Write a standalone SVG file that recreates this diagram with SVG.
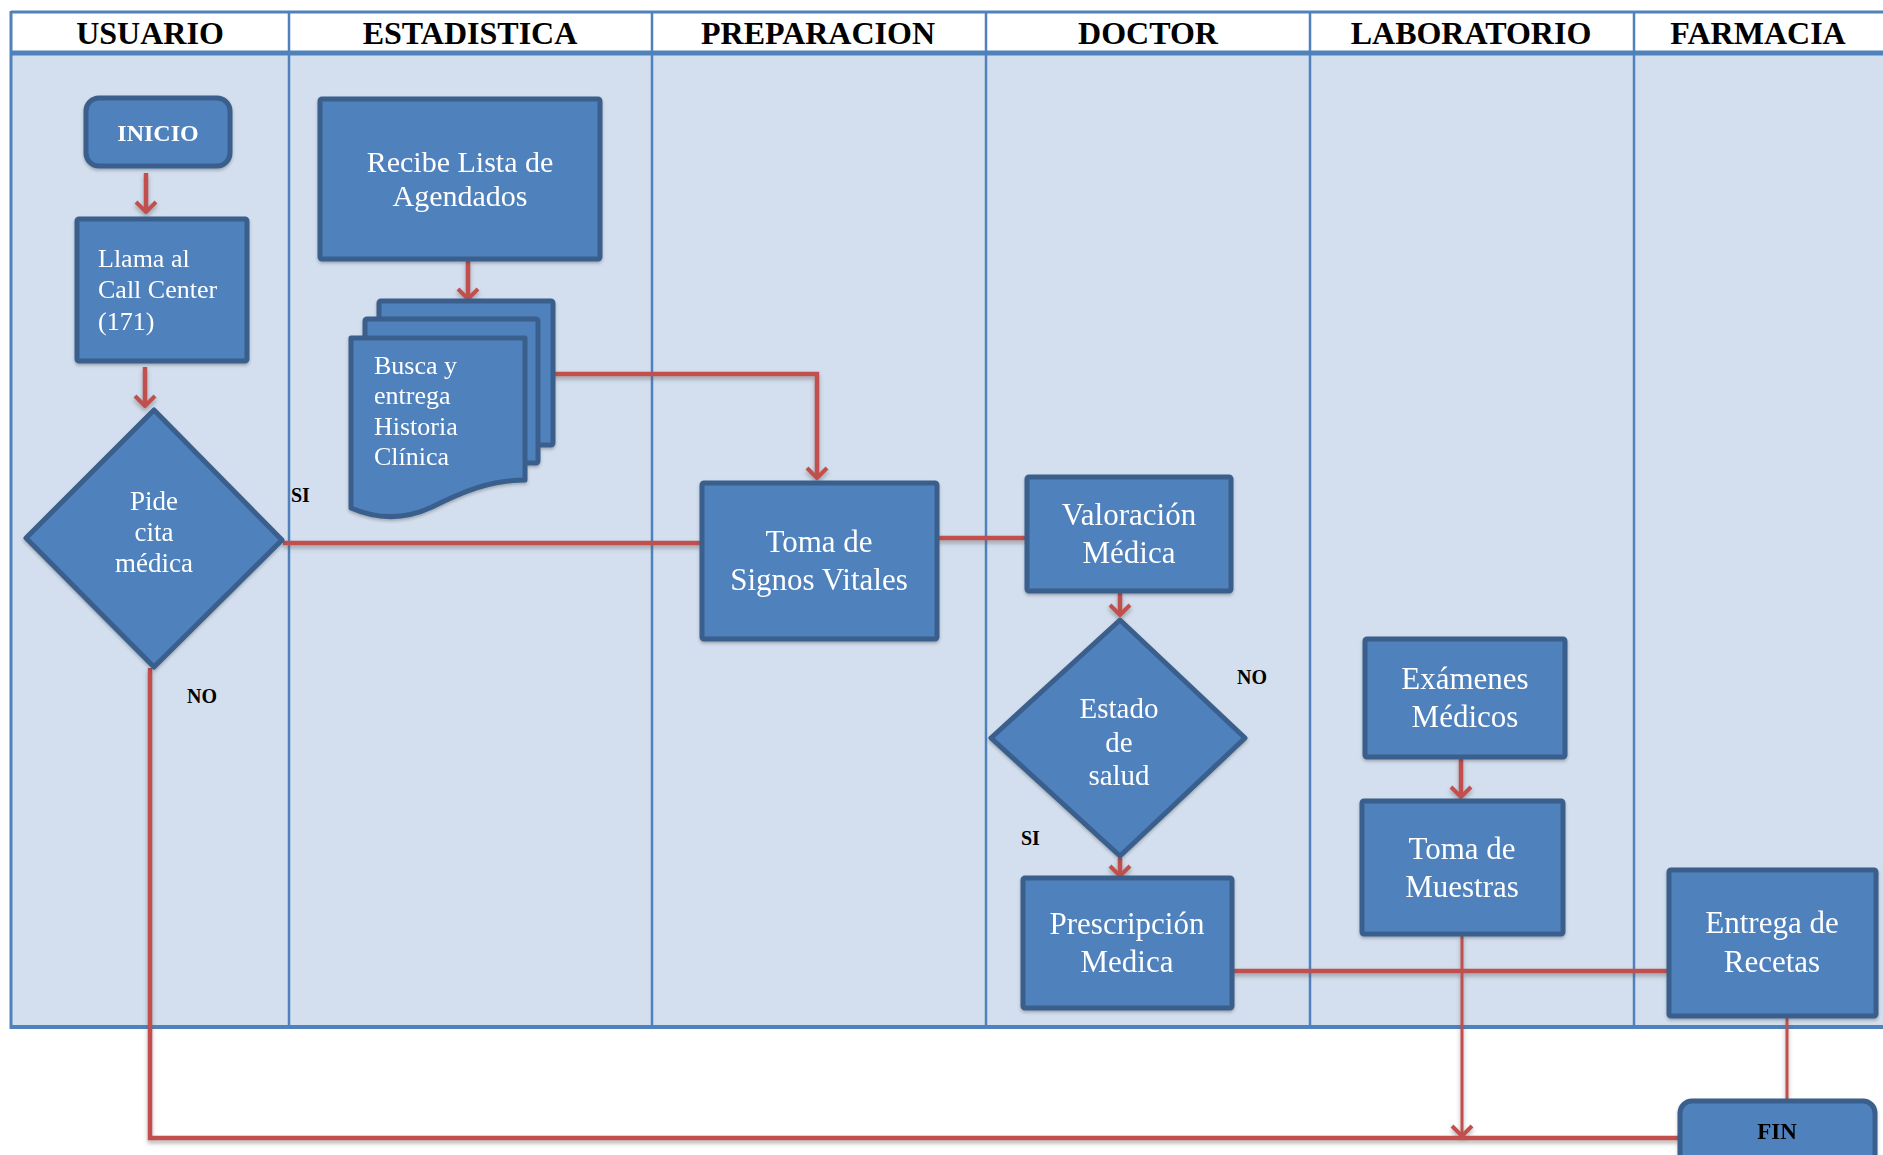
<svg xmlns="http://www.w3.org/2000/svg" width="1883" height="1155" viewBox="0 0 1883 1155">
  <style>
    .lane-head { font-family: "Liberation Serif", "Times New Roman", serif; font-weight: bold; font-size: 32px; fill: #000; text-anchor: middle; }
    .node { fill: #4F81BD; stroke: #3A5F8C; stroke-width: 5; stroke-linejoin: round; }
    .lbl { font-family: "Liberation Serif", "Times New Roman", serif; fill: #fff; }
    .mid { text-anchor: middle; }
    .tag { font-family: "Liberation Serif", "Times New Roman", serif; font-weight: bold; font-size: 20px; fill: #000; }
    .flow { fill: none; stroke: #C0504D; stroke-width: 4.5; }
    .thin { stroke-width: 3; }
    .divider { stroke: #4F81BD; stroke-width: 2.5; }
  </style>
  <defs>
    <marker id="chev" viewBox="-12 -12 14 24" markerWidth="14" markerHeight="24" markerUnits="userSpaceOnUse" orient="auto" refX="0" refY="0">
      <path d="M-10,-10 L0,0 L-10,10" fill="none" stroke="#C0504D" stroke-width="4" stroke-linejoin="miter"/>
    </marker>
    <filter id="shade" x="-5%" y="-20%" width="110%" height="160%">
      <feDropShadow dx="0" dy="3" stdDeviation="2" flood-color="#555" flood-opacity="0.45"/>
    </filter>
    <filter id="boxshade" x="-10%" y="-10%" width="120%" height="125%">
      <feDropShadow dx="0" dy="2" stdDeviation="1.5" flood-color="#333" flood-opacity="0.3"/>
    </filter>
  </defs>

  <rect x="0" y="0" width="1883" height="1155" fill="#fff"/>

  <!-- swimlane frame -->
  <g id="lanes">
    <rect x="11" y="55" width="1880" height="972" fill="#D3DFEE"/>
    <line x1="11" y1="12" x2="1883" y2="12" stroke="#4F81BD" stroke-width="3"/>
    <line x1="11" y1="53" x2="1883" y2="53" stroke="#4F81BD" stroke-width="5"/>
    <line x1="11" y1="1027" x2="1883" y2="1027" stroke="#4F81BD" stroke-width="4"/>
    <line x1="11" y1="11" x2="11" y2="1029" stroke="#4F81BD" stroke-width="3"/>
    <line class="divider" x1="289" y1="12" x2="289" y2="1027"/>
    <line class="divider" x1="652" y1="12" x2="652" y2="1027"/>
    <line class="divider" x1="986" y1="12" x2="986" y2="1027"/>
    <line class="divider" x1="1310" y1="12" x2="1310" y2="1027"/>
    <line class="divider" x1="1634" y1="12" x2="1634" y2="1027"/>
    <text class="lane-head" x="150" y="44">USUARIO</text>
    <text class="lane-head" x="470" y="44">ESTADISTICA</text>
    <text class="lane-head" x="818" y="44">PREPARACION</text>
    <text class="lane-head" x="1148" y="44">DOCTOR</text>
    <text class="lane-head" x="1471" y="44">LABORATORIO</text>
    <text class="lane-head" x="1758" y="44">FARMACIA</text>
  </g>

  <!-- connectors -->
  <g id="connectors" filter="url(#shade)">
    <line class="flow" x1="146" y1="173" x2="146" y2="212" marker-end="url(#chev)"/>
    <line class="flow" x1="145" y1="367" x2="145" y2="406" marker-end="url(#chev)"/>
    <line class="flow" x1="468" y1="260" x2="468" y2="299" marker-end="url(#chev)"/>
    <polyline class="flow" points="553,374 817,374 817,478" marker-end="url(#chev)"/>
    <line class="flow" x1="283" y1="543" x2="701" y2="543"/>
    <line class="flow" x1="938" y1="538" x2="1026" y2="538"/>
    <line class="flow" x1="1120" y1="592" x2="1120" y2="615" marker-end="url(#chev)"/>
    <line class="flow" x1="1120" y1="858" x2="1120" y2="876" marker-end="url(#chev)"/>
    <line class="flow" x1="1461" y1="758" x2="1461" y2="797" marker-end="url(#chev)"/>
    <line class="flow" x1="1233" y1="971" x2="1668" y2="971"/>
    <line class="flow thin" x1="1462" y1="935" x2="1462" y2="1136" marker-end="url(#chev)"/>
    <line class="flow thin" x1="1787" y1="1018" x2="1787" y2="1100"/>
    <polyline class="flow" points="150,668 150,1138 1679,1138"/>
  </g>

  <!-- nodes -->
  <g id="inicio" filter="url(#boxshade)">
    <rect class="node" x="86" y="98" width="144" height="68" rx="13"/>
    <text class="lbl mid" x="158" y="141" font-size="24" font-weight="bold">INICIO</text>
  </g>

  <g id="llama" filter="url(#boxshade)">
    <rect class="node" x="77" y="219" width="170" height="142" rx="2"/>
    <text class="lbl" font-size="26"><tspan x="98" y="267">Llama al</tspan><tspan x="98" y="298">Call Center</tspan><tspan x="98" y="330">(171)</tspan></text>
  </g>

  <g id="pide-cita" filter="url(#boxshade)">
    <polygon class="node" points="154,410 282,540 154,667 26,538"/>
    <text class="lbl mid" font-size="27"><tspan x="154" y="510">Pide</tspan><tspan x="154" y="541">cita</tspan><tspan x="154" y="572">médica</tspan></text>
  </g>

  <g id="recibe-lista" filter="url(#boxshade)">
    <rect class="node" x="320" y="99" width="280" height="160" rx="2"/>
    <text class="lbl mid" font-size="30"><tspan x="460" y="172">Recibe Lista de</tspan><tspan x="460" y="206">Agendados</tspan></text>
  </g>

  <g id="busca-historia" filter="url(#boxshade)">
    <rect class="node" x="379" y="301" width="174" height="144" rx="2"/>
    <rect class="node" x="365" y="319" width="173" height="144" rx="2"/>
    <path class="node" d="M351,338 H525 V480 C490,480 462,492 432,507 C402,521 374,518 351,508 Z"/>
    <text class="lbl" font-size="26"><tspan x="374" y="374">Busca y</tspan><tspan x="374" y="404">entrega</tspan><tspan x="374" y="435">Historia</tspan><tspan x="374" y="465">Clínica</tspan></text>
  </g>

  <g id="signos-vitales" filter="url(#boxshade)">
    <rect class="node" x="702" y="483" width="235" height="156" rx="2"/>
    <text class="lbl mid" font-size="31"><tspan x="819" y="552">Toma de</tspan><tspan x="819" y="590">Signos Vitales</tspan></text>
  </g>

  <g id="valoracion" filter="url(#boxshade)">
    <rect class="node" x="1027" y="477" width="204" height="114" rx="2"/>
    <text class="lbl mid" font-size="31"><tspan x="1129" y="525">Valoración</tspan><tspan x="1129" y="563">Médica</tspan></text>
  </g>

  <g id="estado-salud" filter="url(#boxshade)">
    <polygon class="node" points="1120,620 1245,738 1120,856 991,738"/>
    <text class="lbl mid" font-size="29"><tspan x="1119" y="718">Estado</tspan><tspan x="1119" y="752">de</tspan><tspan x="1119" y="785">salud</tspan></text>
  </g>

  <g id="prescripcion" filter="url(#boxshade)">
    <rect class="node" x="1023" y="878" width="209" height="130" rx="2"/>
    <text class="lbl mid" font-size="31"><tspan x="1127" y="934">Prescripción</tspan><tspan x="1127" y="972">Medica</tspan></text>
  </g>

  <g id="examenes" filter="url(#boxshade)">
    <rect class="node" x="1365" y="639" width="200" height="118" rx="2"/>
    <text class="lbl mid" font-size="31"><tspan x="1465" y="689">Exámenes</tspan><tspan x="1465" y="727">Médicos</tspan></text>
  </g>

  <g id="toma-muestras" filter="url(#boxshade)">
    <rect class="node" x="1362" y="801" width="201" height="133" rx="2"/>
    <text class="lbl mid" font-size="31"><tspan x="1462" y="859">Toma de</tspan><tspan x="1462" y="897">Muestras</tspan></text>
  </g>

  <g id="entrega-recetas" filter="url(#boxshade)">
    <rect class="node" x="1669" y="870" width="207" height="146" rx="2"/>
    <text class="lbl mid" font-size="31"><tspan x="1772" y="933">Entrega de</tspan><tspan x="1772" y="972">Recetas</tspan></text>
  </g>

  <g id="fin" filter="url(#boxshade)">
    <rect class="node" x="1680" y="1101" width="195" height="70" rx="12"/>
    <text x="1777" y="1139" font-family="'Liberation Serif', 'Times New Roman', serif" font-size="23" font-weight="bold" fill="#000" text-anchor="middle">FIN</text>
  </g>

  <!-- branch labels -->
  <g id="branch-labels">
    <text class="tag" x="291" y="502">SI</text>
    <text class="tag" x="187" y="703">NO</text>
    <text class="tag" x="1237" y="684">NO</text>
    <text class="tag" x="1021" y="845">SI</text>
  </g>
</svg>
